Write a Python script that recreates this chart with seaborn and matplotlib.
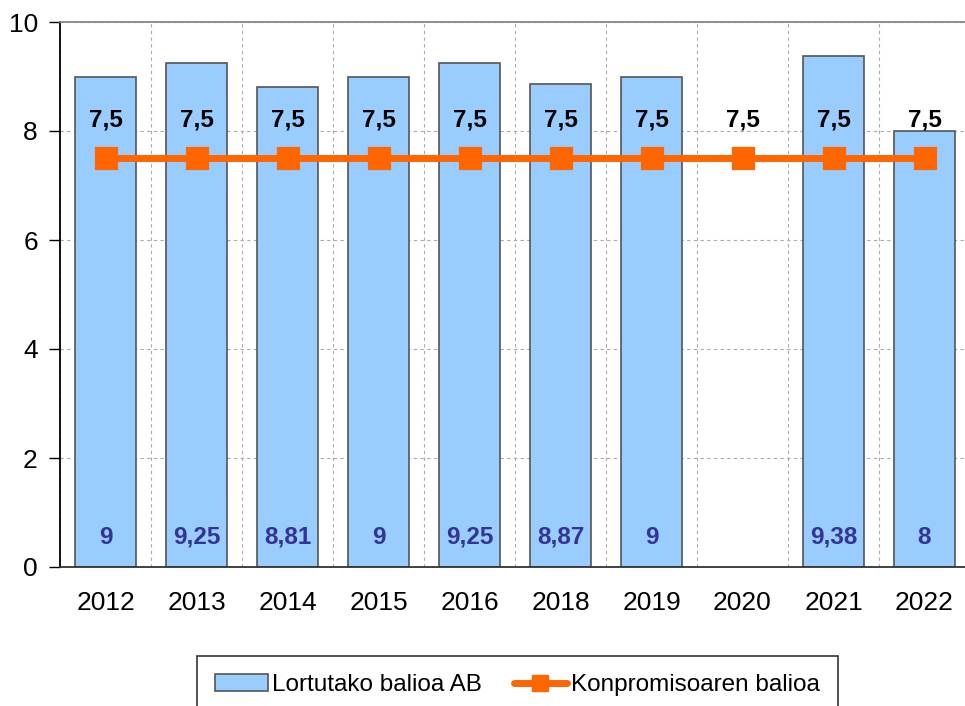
import matplotlib
matplotlib.use("Agg")
import matplotlib.pyplot as plt
import seaborn as sns
import numpy as np
import pandas as pd
from matplotlib.patches import Patch
from matplotlib.lines import Line2D

years = ["2012", "2013", "2014", "2015", "2016", "2018", "2019", "2020", "2021", "2022"]
lortutako = [9, 9.25, 8.81, 9, 9.25, 8.87, 9, np.nan, 9.38, 8]
lortutako_labels = ["9", "9,25", "8,81", "9", "9,25", "8,87", "9", "", "9,38", "8"]
konpromisoa = [7.5] * 10
konpromisoa_labels = ["7,5"] * 10

sns.set_style("white")
plt.rcParams["font.family"] = ["Liberation Sans", "DejaVu Sans"]
plt.rcParams["text.color"] = "black"

bar_color = "#99CCFF"
line_color = "#FF6600"

df = pd.DataFrame({"urtea": years, "balioa": lortutako, "konpromisoa": konpromisoa})

fig = plt.figure(figsize=(9.65, 7.06), dpi=100)
ax = fig.add_axes([60 / 965, 139 / 706, 910 / 965, 545 / 706])

sns.barplot(data=df, x="urtea", y="balioa", color=bar_color, saturation=1,
            width=0.67, edgecolor="#555555", linewidth=1.2, ax=ax, zorder=2)
sns.pointplot(data=df, x="urtea", y="konpromisoa", color=line_color,
              markers="s", linestyles="-", markersize=12.5, linewidth=5,
              ax=ax, zorder=4)

n = len(years)
for i in range(n):
    if lortutako_labels[i]:
        ax.text(i, 0.55, lortutako_labels[i], ha="center", va="center",
                fontsize=17.5, fontweight="bold", color="#333399", zorder=5)
    ax.text(i, 8.2, konpromisoa_labels[i], ha="center", va="center",
            fontsize=17.5, fontweight="bold", color="black", zorder=5)

ax.set_xlim(-0.5, n - 0.5)
ax.set_ylim(0, 10)
ax.set_yticks([0, 2, 4, 6, 8, 10])
ax.set_xticks(np.arange(n))
ax.set_xticklabels(years)
ax.set_xticks(np.arange(n + 1) - 0.5, minor=True)
ax.set_xlabel("")
ax.set_ylabel("")

ax.tick_params(axis="x", which="major", length=4, width=1, color="black",
               labelsize=19, pad=13, labelcolor="black")
ax.tick_params(axis="x", which="minor", length=7, width=1, color="black")
ax.tick_params(axis="y", which="major", length=8, width=1, color="black",
               labelsize=19, pad=8, left=True, labelcolor="black")

ax.grid(False)
ax.yaxis.grid(True, which="major", linestyle=(0, (3, 3)), color="#AAAAAA", linewidth=0.8, zorder=0)
ax.xaxis.grid(True, which="minor", linestyle=(0, (3, 3)), color="#AAAAAA", linewidth=0.8, zorder=0)
ax.set_axisbelow(True)

ax.spines["left"].set_color("black")
ax.spines["left"].set_linewidth(1.3)
ax.spines["bottom"].set_color("#333333")
ax.spines["bottom"].set_linewidth(1.3)
ax.spines["top"].set_color("#888888")
ax.spines["top"].set_linewidth(1.3)
ax.spines["right"].set_visible(False)

handles = [
    Patch(facecolor=bar_color, edgecolor="#555555", linewidth=1.2),
    Line2D([], [], color=line_color, linewidth=5, marker="s", markersize=11,
           solid_capstyle="round"),
]
leg = fig.legend(handles, ["Lortutako balioa AB", "Konpromisoaren balioa"],
                 loc="upper center", bbox_to_anchor=(0.536, 0.071), ncol=2,
                 fontsize=17.5, frameon=True, fancybox=False, edgecolor="black",
                 handlelength=2.2, handletextpad=0.15, columnspacing=1.3,
                 borderpad=0.75, borderaxespad=0)
leg.get_frame().set_linewidth(1.2)
for t in leg.get_texts():
    t.set_color("black")

fig.savefig("out.png", dpi=100)
